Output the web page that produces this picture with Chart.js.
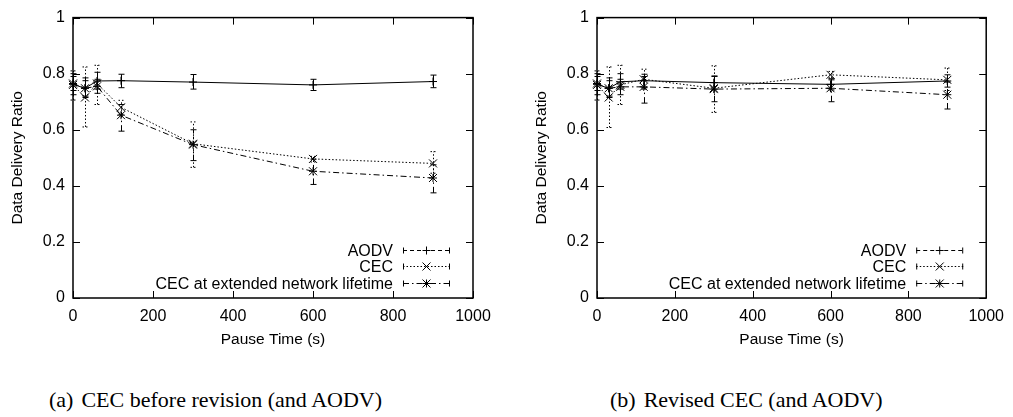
<!DOCTYPE html>
<html>
<head>
<meta charset="utf-8">
<script src="https://cdn.jsdelivr.net/npm/chart.js@4/dist/chart.umd.min.js"></script>
<style>
  body { margin: 0; background: #fff; width: 1013px; height: 417px; position: relative; overflow: hidden; }
  .box { position: absolute; top: 0; height: 360px; }
  .caption { position: absolute; top: 387px; font-family: "Liberation Serif", "Times New Roman", serif; font-size: 22px; color: #000; white-space: nowrap; }
  .caption span { margin-right: 8px; }
</style>
</head>
<body>
<div class="box" style="left:0;width:500px"><canvas id="chartA" width="500" height="360"></canvas></div>
<div class="box" style="left:524px;width:489px"><canvas id="chartB" width="489" height="360"></canvas></div>
<div class="caption" style="left:49px"><span>(a)</span>CEC before revision (and AODV)</div>
<div class="caption" style="left:610px"><span>(b)</span>Revised CEC (and AODV)</div>
<script>
// pause times (s)
const pauseTimes = [0, 30, 60, 120, 300, 600, 900];
const seriesNames = ["AODV", "CEC", "CEC at extended network lifetime"];

// (a) CEC before revision
const aodvA      = [0.762, 0.748, 0.774, 0.775, 0.770, 0.760, 0.772];
const aodvALow   = [0.725, 0.715, 0.745, 0.750, 0.745, 0.740, 0.750];
const aodvAHigh  = [0.800, 0.785, 0.805, 0.798, 0.797, 0.780, 0.795];
const cecA       = [0.760, 0.715, 0.765, 0.680, 0.550, 0.496, 0.480];
const cecALow    = [0.706, 0.610, 0.690, 0.655, 0.466, 0.485, 0.445];
const cecAHigh   = [0.810, 0.824, 0.830, 0.705, 0.628, 0.505, 0.522];
const cecExtA    = [0.765, 0.748, 0.755, 0.652, 0.547, 0.452, 0.428];
const cecExtALow = [0.740, 0.720, 0.730, 0.595, 0.490, 0.405, 0.375];
const cecExtAHigh= [0.790, 0.775, 0.780, 0.690, 0.600, 0.495, 0.475];

// (b) revised CEC
const aodvB      = [0.762, 0.748, 0.771, 0.775, 0.768, 0.762, 0.774];
const aodvBLow   = [0.725, 0.715, 0.745, 0.750, 0.745, 0.742, 0.752];
const aodvBHigh  = [0.800, 0.785, 0.800, 0.798, 0.792, 0.782, 0.796];
const cecB       = [0.760, 0.715, 0.760, 0.780, 0.748, 0.796, 0.778];
const cecBLow    = [0.706, 0.608, 0.690, 0.745, 0.662, 0.785, 0.740];
const cecBHigh   = [0.810, 0.824, 0.830, 0.816, 0.828, 0.808, 0.820];
const cecExtB    = [0.765, 0.748, 0.753, 0.753, 0.745, 0.748, 0.725];
const cecExtBLow = [0.740, 0.720, 0.725, 0.695, 0.700, 0.700, 0.674];
const cecExtBHigh= [0.790, 0.775, 0.780, 0.790, 0.790, 0.778, 0.770];

const yTicks = [0, 0.2, 0.4, 0.6, 0.8, 1];
const xTicks = [0, 200, 400, 600, 800, 1000];

Chart.defaults.font.family = "'Liberation Sans', Arial, sans-serif";
Chart.defaults.color = "#000";

// line dash in plot, dash of legend sample, marker
const styles = [
  { dash: [], keyDash: [4, 3], marker: "plus" },
  { dash: [1.5, 2], keyDash: [1.5, 2], marker: "x" },
  { dash: [6, 3, 1.5, 3], keyDash: [6, 3, 1.5, 3], marker: "star" }
];

function drawMarker(ctx, kind, x, y, r) {
  ctx.save();
  ctx.setLineDash([]);
  ctx.lineWidth = 1;
  ctx.strokeStyle = "#000";
  ctx.beginPath();
  if (kind === "plus" || kind === "star") {
    ctx.moveTo(x - r, y); ctx.lineTo(x + r, y);
    ctx.moveTo(x, y - r); ctx.lineTo(x, y + r);
  }
  if (kind === "x" || kind === "star") {
    ctx.moveTo(x - r, y - r); ctx.lineTo(x + r, y + r);
    ctx.moveTo(x - r, y + r); ctx.lineTo(x + r, y - r);
  }
  ctx.stroke();
  ctx.restore();
}

// error bars, markers, frame with inward ticks, legend
const gnuplotLook = {
  id: "gnuplotLook",
  afterDatasetsDraw(chart) {
    const ctx = chart.ctx;
    const xs = chart.scales.x, ys = chart.scales.y;
    const area = chart.chartArea;
    chart.data.datasets.forEach((ds, i) => {
      const meta = chart.getDatasetMeta(i);
      const st = styles[i];
      ctx.save();
      ctx.strokeStyle = "#000";
      ctx.lineWidth = 1;
      ctx.setLineDash(st.dash);
      meta.data.forEach((pt, j) => {
        const x = Math.round(pt.x) + 0.5;
        const lo = ys.getPixelForValue(ds.errLow[j]);
        const hi = ys.getPixelForValue(ds.errHigh[j]);
        ctx.beginPath();
        ctx.moveTo(x, lo); ctx.lineTo(x, hi);
        ctx.moveTo(x - 3, hi); ctx.lineTo(x + 3, hi);
        ctx.moveTo(x - 3, lo); ctx.lineTo(x + 3, lo);
        ctx.stroke();
      });
      ctx.restore();
      meta.data.forEach(pt => drawMarker(ctx, st.marker, pt.x, pt.y, 4));
    });

    // frame
    ctx.save();
    ctx.strokeStyle = "#000";
    ctx.lineWidth = 1.5;
    ctx.strokeRect(area.left, area.top, area.right - area.left, area.bottom - area.top);
    ctx.lineWidth = 1;
    ctx.beginPath();
    xTicks.forEach(v => {
      const x = Math.round(xs.getPixelForValue(v)) + 0.5;
      ctx.moveTo(x, area.bottom); ctx.lineTo(x, area.bottom - 7);
      ctx.moveTo(x, area.top); ctx.lineTo(x, area.top + 7);
    });
    yTicks.forEach(v => {
      const y = Math.round(ys.getPixelForValue(v)) + 0.5;
      ctx.moveTo(area.left, y); ctx.lineTo(area.left + 7, y);
      ctx.moveTo(area.right, y); ctx.lineTo(area.right - 7, y);
    });
    ctx.stroke();

    // legend
    ctx.font = "16px 'Liberation Sans', Arial, sans-serif";
    ctx.textAlign = "right";
    ctx.textBaseline = "middle";
    ctx.fillStyle = "#000";
    const rowY = [area.bottom - 48, area.bottom - 32, area.bottom - 15];
    chart.data.datasets.forEach((ds, i) => {
      const y = Math.round(rowY[i]) + 0.5;
      ctx.fillText(ds.label, area.right - 80, y + 1);
      const x0 = area.right - 70, x1 = area.right - 23;
      ctx.save();
      ctx.lineWidth = 1;
      ctx.setLineDash(styles[i].keyDash);
      ctx.beginPath();
      ctx.moveTo(x0, y); ctx.lineTo(x1, y);
      ctx.stroke();
      ctx.setLineDash([]);
      ctx.beginPath();
      ctx.moveTo(x0 + 0.5, y - 3); ctx.lineTo(x0 + 0.5, y + 3);
      ctx.moveTo(x1 - 0.5, y - 3); ctx.lineTo(x1 - 0.5, y + 3);
      ctx.stroke();
      ctx.restore();
      drawMarker(ctx, styles[i].marker, (x0 + x1) / 2, y, 4);
    });
    ctx.restore();
  }
};

function makeChart(id, series, lows, highs, rightPad) {
  const datasets = series.map((vals, i) => ({
    label: seriesNames[i],
    data: vals.map((v, j) => ({ x: pauseTimes[j], y: v })),
    errLow: lows[i],
    errHigh: highs[i],
    borderColor: "#000",
    borderWidth: 1,
    borderDash: styles[i].dash,
    pointRadius: 0,
    tension: 0,
    fill: false
  }));
  return new Chart(document.getElementById(id), {
    type: "line",
    data: { datasets },
    options: {
      responsive: false,
      animation: false,
      layout: { padding: { top: 17, right: rightPad, bottom: 10, left: 0 } },
      plugins: { legend: { display: false }, tooltip: { enabled: false } },
      scales: {
        x: {
          type: "linear", min: 0, max: 1000,
          grid: { display: false, drawTicks: false },
          border: { display: false },
          ticks: { stepSize: 200, padding: 9, font: { size: 16 }, callback: v => String(v) },
          title: { display: true, text: "Pause Time (s)", font: { size: 15.5 }, padding: { top: 0, bottom: 1 } },
          afterFit(s) { s.height = 52; }
        },
        y: {
          min: 0, max: 1,
          grid: { display: false, drawTicks: false },
          border: { display: false },
          ticks: { stepSize: 0.2, padding: 8, font: { size: 16 }, callback: v => String(Math.round(v * 10) / 10) },
          title: { display: true, text: "Data Delivery Ratio", font: { size: 15.5 }, padding: { top: 8, bottom: 0 } },
          afterFit(s) { s.width = 73; }
        }
      }
    },
    plugins: [gnuplotLook]
  });
}

makeChart("chartA", [aodvA, cecA, cecExtA], [aodvALow, cecALow, cecExtALow], [aodvAHigh, cecAHigh, cecExtAHigh], 27);
makeChart("chartB", [aodvB, cecB, cecExtB], [aodvBLow, cecBLow, cecExtBLow], [aodvBHigh, cecBHigh, cecExtBHigh], 16);
</script>
</body>
</html>
